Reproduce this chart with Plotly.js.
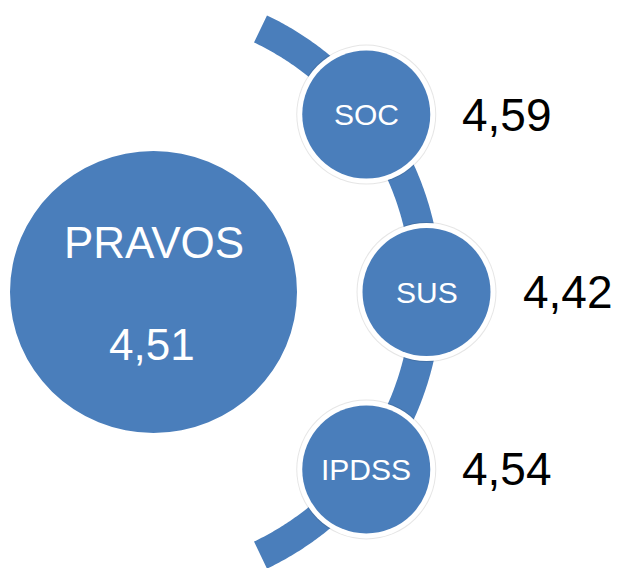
<!DOCTYPE html>
<html>
<head>
<meta charset="utf-8">
<script src="https://cdn.plot.ly/plotly-3.0.1.min.js"></script>
<style>html,body{margin:0;padding:0;background:#fff;}#chart{width:617px;height:568px;}</style>
</head>
<body>
<div id="chart"></div>
<script>
// ---- data ----
var mainLabel = 'PRAVOS';
var mainValue = 4.51;
var categories = ['SOC', 'SUS', 'IPDSS'];
var values = [4.59, 4.42, 4.54];

// ---- layout geometry (pixel space) ----
var W = 617, H = 568;
var BLUE = '#4a7ebb';
var FONT = 'Liberation Sans, Arial, sans-serif';
var arcC = {x: 135, y: 292}, arcR = 291.5, arcW = 30, arcSpan = 64.5;
var nodeAngles = [37.5, 0, -37.5];
var nodeR = 64;
var big = {x0: 10, x1: 297, y0: 151, y1: 433};

function fmt(v) { return v.toFixed(2).replace('.', ','); }
function rad(a) { return a * Math.PI / 180; }

// arc path (decoration)
var ax = [], ay = [];
for (var i = 0; i <= 300; i++) {
  var a = -arcSpan + 2 * arcSpan * i / 300;
  ax.push(arcC.x + arcR * Math.cos(rad(a)));
  ay.push(arcC.y - arcR * Math.sin(rad(a)));
}
var traces = [{
  type: 'scatter', mode: 'lines', x: ax, y: ay,
  line: {color: BLUE, width: arcW, simplify: false}, hoverinfo: 'skip', showlegend: false
}];

var shapes = [];
var annotations = [];
function circ(cx, cy, r, fill) {
  return {type: 'circle', xref: 'x', yref: 'y', x0: cx - r, x1: cx + r, y0: cy - r, y1: cy + r,
          fillcolor: fill, line: {width: 0}, layer: 'above'};
}

// main circle
shapes.push({type: 'circle', xref: 'x', yref: 'y', x0: big.x0, x1: big.x1, y0: big.y0, y1: big.y1,
             fillcolor: BLUE, line: {width: 0}, layer: 'above'});
var bcx = (big.x0 + big.x1) / 2;
annotations.push({x: bcx, y: 242, xref: 'x', yref: 'y', text: mainLabel, showarrow: false,
                  font: {family: FONT, size: 44, color: '#ffffff'}, xanchor: 'center', yanchor: 'middle'});
annotations.push({x: bcx - 2, y: 344, xref: 'x', yref: 'y', text: fmt(mainValue), showarrow: false,
                  font: {family: FONT, size: 44, color: '#ffffff'}, xanchor: 'center', yanchor: 'middle'});

categories.forEach(function (c, k) {
  var a = rad(nodeAngles[k]);
  var cx = arcC.x + arcR * Math.cos(a);
  var cy = arcC.y - arcR * Math.sin(a);
  shapes.push(circ(cx, cy, nodeR + 6, 'rgba(0,0,0,0.10)'));
  shapes.push(circ(cx, cy, nodeR + 5, '#ffffff'));
  shapes.push(circ(cx, cy, nodeR, BLUE));
  annotations.push({x: cx, y: cy, xref: 'x', yref: 'y', text: c, showarrow: false,
                    font: {family: FONT, size: 30, color: '#ffffff'}, xanchor: 'center', yanchor: 'middle'});
  annotations.push({x: cx + nodeR + 30, y: cy, xref: 'x', yref: 'y', text: fmt(values[k]), showarrow: false,
                    font: {family: FONT, size: 46, color: '#000000'}, xanchor: 'left', yanchor: 'middle'});
});

var layout = {
  width: W, height: H,
  margin: {l: 0, r: 0, t: 0, b: 0, pad: 0},
  paper_bgcolor: '#ffffff', plot_bgcolor: '#ffffff',
  xaxis: {range: [0, W], visible: false, fixedrange: true},
  yaxis: {range: [H, 0], visible: false, fixedrange: true},
  shapes: shapes,
  annotations: annotations,
  showlegend: false
};
Plotly.newPlot('chart', traces, layout, {staticPlot: true, displayModeBar: false});
</script>
</body>
</html>
